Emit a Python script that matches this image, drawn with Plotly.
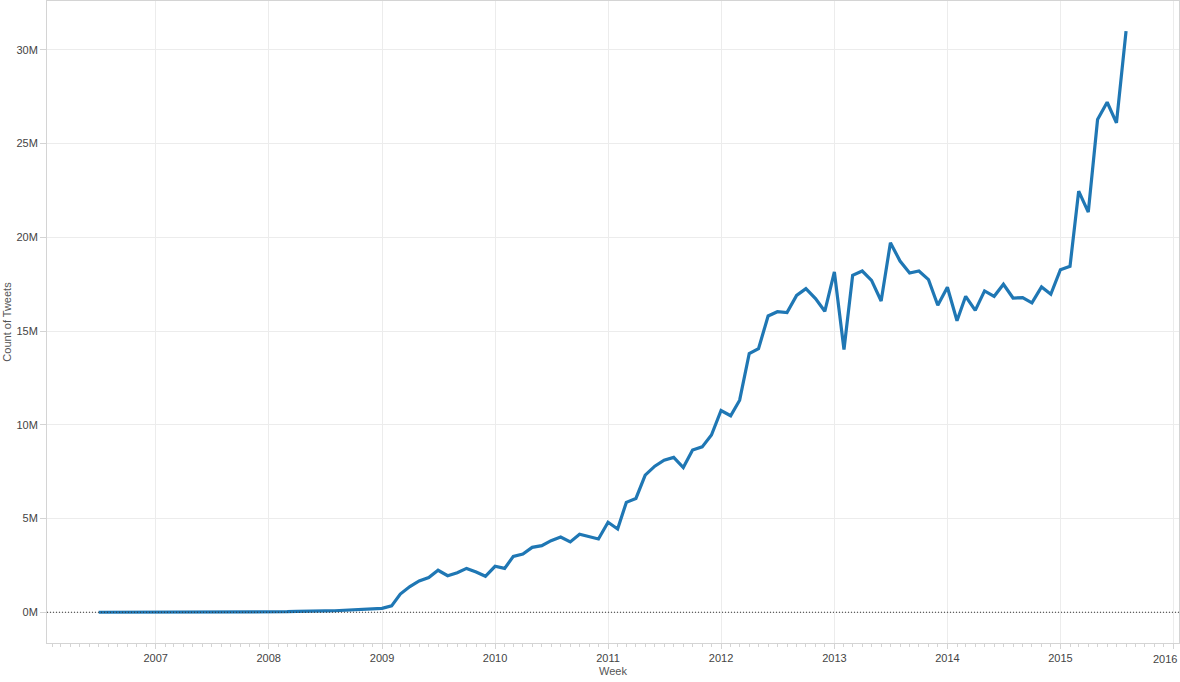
import plotly.graph_objects as go
import pandas as pd

# Tweets par mois (millions)
y2006 = [0.00, 0.00, 0.00, 0.00, 0.005, 0.005]  # juil -> dec
y2007 = [0.01, 0.01, 0.01, 0.02, 0.02, 0.02, 0.02, 0.02, 0.02, 0.02, 0.02, 0.02]
y2008 = [0.02, 0.02, 0.03, 0.05, 0.07, 0.06, 0.07, 0.08, 0.10, 0.12, 0.14, 0.17]
y2009 = [0.21, 0.34, 0.97, 1.37, 1.67, 1.85, 2.24, 1.95, 2.11, 2.34, 2.15, 1.92]
y2010 = [2.45, 2.34, 2.98, 3.11, 3.46, 3.55, 3.82, 4.01, 3.75, 4.16, 4.03, 3.91]
y2011 = [4.80, 4.44, 5.86, 6.07, 7.31, 7.79, 8.11, 8.26, 7.72, 8.65, 8.82, 9.45]
y2012 = [10.76, 10.48, 11.31, 13.80, 14.06, 15.80, 16.03, 15.98, 16.90, 17.26, 16.73, 16.05]
y2013 = [18.15, 14.01, 17.97, 18.20, 17.70, 16.60, 19.71, 18.73, 18.09, 18.20, 17.74, 16.37]
y2014 = [17.33, 15.55, 16.85, 16.10, 17.14, 16.85, 17.49, 16.76, 16.78, 16.50, 17.35, 16.96]
y2015 = [18.27, 18.45, 22.46, 21.34, 26.28, 27.20, 26.10, 30.99]  # jan -> aout

start_month = "2006-07-01"

x_tick_vals = ["2007-01-01", "2008-01-01", "2009-01-01", "2010-01-01", "2011-01-01",
               "2012-01-01", "2013-01-01", "2014-01-01", "2015-01-01", "2016-01-01"]
x_tick_text = ["2007", "2008", "2009", "2010", "2011", "2012", "2013", "2014", "2015", ""]
last_year_label = "2016"

y_tick_vals = [0, 5e6, 10e6, 15e6, 20e6, 25e6, 30e6]
y_tick_text = ["0M", "5M", "10M", "15M", "20M", "25M", "30M"]

# Données ---------------------------------------------------------------------
counts = y2006 + y2007 + y2008 + y2009 + y2010 + y2011 + y2012 + y2013 + y2014 + y2015
counts = [c * 1e6 for c in counts]
weeks = pd.date_range(start_month, periods=len(counts), freq="MS")

fig = go.Figure()
fig.add_trace(go.Scatter(x=weeks, y=counts, mode="lines",
                         line=dict(color="#1f77b4", width=3.2),
                         name="Count of Tweets"))

# ligne du zéro en pointillé
fig.add_hline(y=0, line=dict(color="#333333", width=1, dash="1px,2px"))

# dernière étiquette (décalée vers la gauche comme dans Tableau)
fig.add_annotation(x=x_tick_vals[-1], y=0, xref="x", yref="paper",
                   text=last_year_label, showarrow=False,
                   xanchor="center", yanchor="top", xshift=-8, yshift=-8,
                   font=dict(family="Liberation Sans, Arial, sans-serif", size=11, color="#444444"))

fig.update_layout(
    width=1180,
    height=682,
    margin=dict(l=47, r=1, t=1, b=39),
    paper_bgcolor="white",
    plot_bgcolor="white",
    showlegend=False,
    font=dict(family="Liberation Sans, Arial, sans-serif", size=11, color="#555555"),
    xaxis=dict(
        title=dict(text="Week", standoff=4, font=dict(size=11, color="#555555")),
        type="date",
        range=["2006-01-15", "2016-01-19"],
        tickvals=x_tick_vals,
        ticktext=x_tick_text,
        ticks="outside",
        ticklen=5,
        tickcolor="#d4d4d4",
        showgrid=True,
        gridcolor="#ececec",
        gridwidth=1,
        showline=True,
        linecolor="#d4d4d4",
        linewidth=1,
        mirror=True,
        zeroline=False,
        tickfont=dict(color="#444444"),
        minor=dict(dtick="M1", ticks="outside", ticklen=3, tickcolor="#d4d4d4",
                   showgrid=False),
    ),
    yaxis=dict(
        title=dict(text="Count of Tweets", standoff=2, font=dict(size=11, color="#555555")),
        range=[-1.64e6, 32.6e6],
        tickvals=y_tick_vals,
        ticktext=y_tick_text,
        ticks="outside",
        ticklen=6,
        tickcolor="#d4d4d4",
        showgrid=True,
        gridcolor="#ececec",
        gridwidth=1,
        showline=True,
        linecolor="#d4d4d4",
        linewidth=1,
        mirror=True,
        zeroline=False,
        tickfont=dict(color="#444444"),
    ),
)

fig.write_html("out.html", config={"displayModeBar": False},
               post_script="document.body.style.margin='0';document.body.style.overflow='hidden';")
